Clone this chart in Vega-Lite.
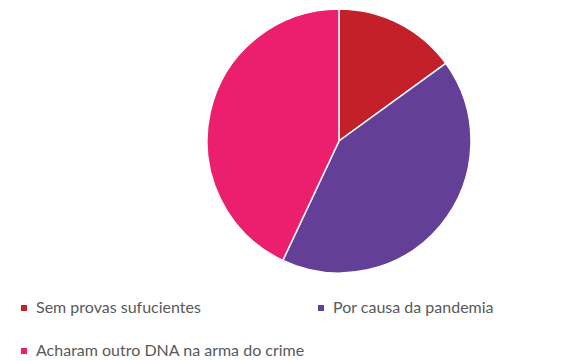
{
  "$schema": "https://vega.github.io/schema/vega-lite/v6.json",
  "autosize": "none",
  "width": 278,
  "height": 278,
  "padding": {"left": 200, "top": 2, "right": 94, "bottom": 81},
  "background": "white",
  "data": {
    "values": [
      {"motivo": "Sem provas sufucientes", "valor": 15, "ordem": 1},
      {"motivo": "Por causa da pandemia", "valor": 42, "ordem": 2},
      {"motivo": "Acharam outro DNA na arma do crime", "valor": 43, "ordem": 3}
    ]
  },
  "mark": {"type": "arc", "outerRadius": 132, "stroke": "white", "strokeWidth": 1.5},
  "encoding": {
    "theta": {"field": "valor", "type": "quantitative", "stack": true},
    "order": {"field": "ordem", "type": "quantitative"},
    "color": {
      "field": "motivo",
      "type": "nominal",
      "scale": {
        "domain": ["Sem provas sufucientes", "Por causa da pandemia", "Acharam outro DNA na arma do crime"],
        "range": ["#c3202a", "#633f98", "#ec1e6e"]
      },
      "legend": {
        "title": null,
        "orient": "none",
        "direction": "horizontal",
        "legendX": -184,
        "legendY": 298,
        "columns": 2,
        "columnPadding": 8,
        "rowPadding": 27,
        "symbolType": "square",
        "symbolSize": 36,
        "symbolStrokeWidth": 0,
        "labelFont": "Lato",
        "labelFontSize": 16,
        "labelColor": "#595959",
        "labelOffset": 4,
        "labelLimit": 400
      }
    }
  },
  "config": {"view": {"stroke": null}}
}
